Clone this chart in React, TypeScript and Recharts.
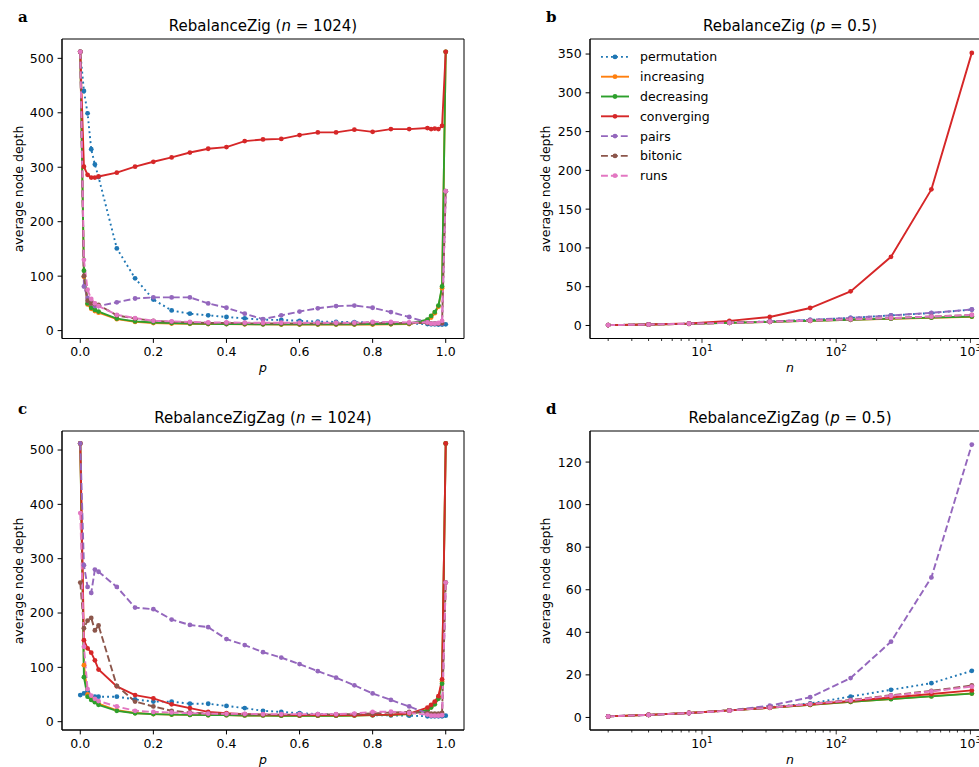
import React from 'react';
import { LineChart, Line, XAxis, YAxis, ReferenceArea, Legend } from 'recharts';

// rebalance probability p (left column) and sequence length n (right column)
const pValues = [0, 0.01, 0.02, 0.03, 0.04, 0.05, 0.1, 0.15, 0.2, 0.25, 0.3, 0.35, 0.4, 0.45, 0.5, 0.55, 0.6, 0.65, 0.7, 0.75, 0.8, 0.85, 0.9, 0.95, 0.96, 0.97, 0.98, 0.99, 1.0];
const nValues = [2, 4, 8, 16, 32, 64, 128, 256, 512, 1024];

// panel a: RebalanceZig, n = 1024
const zigPermutation = [512, 440, 399, 333, 305, 282, 151, 96, 57, 37, 31, 28, 25, 22.5, 20, 19.5, 18, 16.5, 16, 15.5, 15, 14, 13, 12, 11.5, 11.5, 11, 11, 11.5];
const zigIncreasing = [512, 99, 48, 40, 36, 33, 21, 16, 14, 13, 12.5, 12, 12, 11.5, 11.5, 11, 11, 11, 11, 11, 11, 11.5, 12, 19, 24, 32, 44, 78, 512];
const zigDecreasing = [512, 110, 50, 42, 38, 35, 22, 17, 15, 14, 13, 12.5, 12, 12, 11.5, 11.5, 11.5, 11.5, 11.5, 11.5, 12, 12, 13, 20, 27, 34, 46, 81, 512];
const zigConverging = [512, 301, 286, 281, 281, 283, 290, 301, 310, 318, 327, 334, 337, 348, 351, 352, 359, 364, 364, 369, 365, 370, 370, 372, 370, 371, 370, 376, 512];
const zigPairs = [512, 81, 60, 50, 45, 45, 52, 59, 61, 61, 61, 50, 42, 31, 21, 28, 35, 41, 45, 46, 42, 34, 25, 15, 13, 13, 13, 13, 256];
const zigBitonic = [512, 100, 55, 50, 49, 47, 28, 22, 18, 16, 15, 14, 14, 13.5, 13, 13, 13, 13, 13, 13, 13.5, 13.5, 14, 14, 13, 13, 13, 14, 256];
const zigRuns = [512, 130, 75, 58, 50, 45, 29, 23, 18, 17, 16, 15, 15, 14.5, 14.5, 14.5, 14.5, 14.5, 14.5, 14.5, 16, 16, 15, 15, 13, 13, 14, 18, 256];

// panel b: RebalanceZig, p = 0.5
const zigNPermutation = [0.5, 1.3, 2.3, 3.6, 5.2, 7.2, 9.8, 13, 16, 20.5];
const zigNIncreasing = [0.5, 1.2, 2.1, 3.3, 4.6, 5.9, 7.3, 8.7, 10, 11.3];
const zigNDecreasing = [0.5, 1.2, 2.1, 3.3, 4.6, 6, 7.4, 8.8, 10.1, 11.5];
const zigNConverging = [0.5, 1.3, 2.5, 5.9, 11, 22.5, 44, 88.5, 175.5, 351.5];
const zigNPairs = [0.5, 1.3, 2.3, 3.6, 5.2, 7.3, 9.8, 13, 16.3, 20.6];
const zigNBitonic = [0.5, 1.2, 2.2, 3.4, 4.8, 6.2, 7.8, 9.6, 11.5, 13.5];
const zigNRuns = [0.5, 1.2, 2.2, 3.4, 4.8, 6.2, 7.8, 9.5, 11.4, 13.5];

// panel c: RebalanceZigZag, n = 1024
const zzPermutation = [49, 52, 55, 46, 46, 46, 46, 41, 37, 37, 33, 33, 29, 25, 20, 18, 15.5, 14, 13, 12.5, 12, 11.5, 11, 10, 10, 10, 10, 10, 11];
const zzIncreasing = [512, 104, 50, 42, 37, 33, 21, 16, 14, 13, 12.5, 12, 12, 11.5, 11.5, 11, 11, 11, 11, 11.5, 12, 12.5, 14, 22, 27, 33, 44, 74, 512];
const zzDecreasing = [512, 82, 46, 40, 36, 31, 20, 15.5, 14, 13, 12.5, 12, 12, 11.5, 11.5, 11, 11, 11, 11, 11.5, 12, 12.5, 14, 21, 26, 32, 42, 70, 512];
const zzConverging = [512, 150, 135, 127, 113, 96, 65, 49, 43, 32, 25, 18, 15.5, 14, 13, 12.5, 12, 12, 12, 12, 12.5, 13, 15, 26, 31, 37, 47, 78, 512];
const zzPairs = [512, 288, 248, 237, 280, 276, 248, 210, 207, 188, 178, 174, 152, 141, 128, 118, 106, 93, 81, 67, 52, 40, 28, 15, 13, 12, 12, 12, 256];
const zzBitonic = [256, 172, 186, 191, 168, 177, 66, 37, 28, 20, 17, 15, 14, 13.5, 13, 13, 13, 13, 13.5, 14, 15, 17, 18, 16, 15, 15, 15, 16, 256];
const zzRuns = [384, 138, 60, 48, 42, 38, 28, 20, 18, 17, 15.5, 15, 14.5, 14.5, 14, 14, 14, 14, 14, 15, 18, 18.5, 16, 13, 11, 11, 11, 12, 256];

// panel d: RebalanceZigZag, p = 0.5
const zzNPermutation = [0.5, 1.2, 2.1, 3.3, 4.8, 6.6, 9.8, 13, 16.1, 21.9];
const zzNIncreasing = [0.5, 1.2, 2.1, 3.3, 4.5, 5.9, 7.3, 8.7, 10, 11.3];
const zzNDecreasing = [0.5, 1.2, 2.1, 3.3, 4.5, 5.9, 7.3, 8.6, 9.9, 11.2];
const zzNConverging = [0.5, 1.2, 2.1, 3.3, 4.6, 6.1, 7.7, 9.4, 11, 12.7];
const zzNPairs = [0.5, 1.2, 2, 3.3, 5.5, 9.5, 18.5, 35.6, 65.8, 128.2];
const zzNBitonic = [0.5, 1.2, 2.1, 3.3, 4.7, 6.4, 8.2, 10.4, 12.5, 15];
const zzNRuns = [0.5, 1.2, 2.1, 3.2, 4.6, 6.3, 8, 10.2, 12.2, 14.5];

const pTicks = [0, 0.2, 0.4, 0.6, 0.8, 1.0];
const nTicks = [2, 3, 4, 5, 6, 7, 8, 9, 10, 20, 30, 40, 50, 60, 70, 80, 90, 100, 200, 300, 400, 500, 600, 700, 800, 900, 1000];
const depthTicksTall = [0, 100, 200, 300, 400, 500];
const depthTicksB = [0, 50, 100, 150, 200, 250, 300, 350];
const depthTicksD = [0, 20, 40, 60, 80, 100, 120];

const FONT = 'DejaVu Sans';

const series = [
  { key: 'permutation', color: '#1f77b4', dash: '1.9 3.1' },
  { key: 'increasing', color: '#ff7f0e', dash: undefined },
  { key: 'decreasing', color: '#2ca02c', dash: undefined },
  { key: 'converging', color: '#d62728', dash: undefined },
  { key: 'pairs', color: '#9467bd', dash: '6.9 3' },
  { key: 'bitonic', color: '#8c564b', dash: '6.9 3' },
  { key: 'runs', color: '#e377c2', dash: '6.9 3' },
];

function buildRows(xs: number[], cols: number[][]) {
  return xs.map((x, i) => {
    const row: any = { x };
    series.forEach((s, j) => {
      row[s.key] = cols[j][i];
    });
    return row;
  });
}

const rowsA = buildRows(pValues, [zigPermutation, zigIncreasing, zigDecreasing, zigConverging, zigPairs, zigBitonic, zigRuns]);
const rowsB = buildRows(nValues, [zigNPermutation, zigNIncreasing, zigNDecreasing, zigNConverging, zigNPairs, zigNBitonic, zigNRuns]);
const rowsC = buildRows(pValues, [zzPermutation, zzIncreasing, zzDecreasing, zzConverging, zzPairs, zzBitonic, zzRuns]);
const rowsD = buildRows(nValues, [zzNPermutation, zzNIncreasing, zzNDecreasing, zzNConverging, zzNPairs, zzNBitonic, zzNRuns]);

const LogTick = (props: any) => {
  const { x, y, payload } = props;
  const v = payload.value;
  const exp = Math.round(Math.log10(v));
  const major = Math.abs(Math.pow(10, exp) - v) < 1e-6;
  return (
    <g>
      <line x1={x} x2={x} y1={y} y2={y + (major ? 4.4 : 2.5)} stroke="#000" strokeWidth={0.8} />
      {major && (
        <text x={x} y={y + 17.8} textAnchor="middle" fontSize={12.5} fontFamily={FONT} fill="#000">
          10<tspan dy={-5} fontSize={9}>{exp}</tspan>
        </text>
      )}
    </g>
  );
};

const LegendBox = () => (
  <svg width={150} height={140}>
    {series.map((s, i) => {
      const cy = 9.9 + i * 19.8;
      return (
        <g key={s.key}>
          <line x1={2} x2={30} y1={cy} y2={cy} stroke={s.color} strokeWidth={1.9} strokeDasharray={s.dash} />
          <circle cx={16} cy={cy} r={2.4} fill={s.color} />
          <text x={41} y={cy} dominantBaseline="central" fontSize={12.5} fontFamily={FONT} fill="#000">{s.key}</text>
        </g>
      );
    })}
  </svg>
);

interface PanelProps {
  rows: any[];
  left: number;
  top: number;
  plotHeight: number;
  xDomain: [number, number];
  yDomain: [number, number];
  yTicks: number[];
  logX?: boolean;
  legend?: boolean;
}

const Panel = ({ rows, left, top, plotHeight, xDomain, yDomain, yTicks, logX, legend }: PanelProps) => {
  const plotWidth = logX ? 400 : 402;
  return (
    <div style={{ position: 'absolute', left, top }}>
      <LineChart width={62 + plotWidth + 5} height={5 + plotHeight + 40} data={rows} margin={{ top: 5, right: 5, bottom: 0, left: 0 }}>
        {logX ? (
          <XAxis dataKey="x" type="number" scale="log" domain={xDomain} allowDataOverflow ticks={nTicks} interval={0}
            tickLine={false} tickSize={0} tickMargin={0} height={40} tick={<LogTick />} axisLine={{ stroke: '#000' }} />
        ) : (
          <XAxis dataKey="x" type="number" domain={xDomain} allowDataOverflow ticks={pTicks} interval={0}
            tickSize={4.4} tickMargin={4.4} height={40} tickFormatter={(v: number) => v.toFixed(1)}
            tick={{ fontSize: 12.5, fill: '#000', fontFamily: FONT }} tickLine={{ stroke: '#000' }} axisLine={{ stroke: '#000' }} />
        )}
        <YAxis type="number" domain={yDomain} allowDataOverflow ticks={yTicks} interval={0} width={62}
          tickSize={4.4} tickMargin={4} tick={{ fontSize: 12.5, fill: '#000', fontFamily: FONT }}
          tickLine={{ stroke: '#000' }} axisLine={{ stroke: '#000' }} />
        <ReferenceArea x1={xDomain[0]} x2={xDomain[1]} y1={yDomain[0]} y2={yDomain[1]} fill="none" stroke="#000" strokeWidth={1} />
        {series.map((s) => (
          <Line key={s.key} dataKey={s.key} stroke={s.color} strokeWidth={1.9} strokeDasharray={s.dash}
            dot={{ r: 2.4, fill: s.color, strokeWidth: 0 }} activeDot={false} isAnimationActive={false} />
        ))}
        {legend && (
          <Legend layout="vertical" align="center" verticalAlign="middle" content={<LegendBox />}
            wrapperStyle={{ left: 71, top: 12.8, width: 150, height: 140 }} />
        )}
      </LineChart>
    </div>
  );
};

const Title = ({ x, y, name, v, val }: { x: number; y: number; name: string; v: string; val: string }) => (
  <text x={x} y={y} textAnchor="middle" fontSize={15} fontFamily={FONT} fill="#000">
    {name} (<tspan fontStyle="italic">{v}</tspan> = {val})
  </text>
);

const YLabel = ({ x, y }: { x: number; y: number }) => (
  <text x={x} y={y} transform={`rotate(-90, ${x}, ${y})`} textAnchor="middle" dominantBaseline="central" fontSize={12.5} fontFamily={FONT} fill="#000">
    average node depth
  </text>
);

const Letter = ({ x, y, t }: { x: number; y: number; t: string }) => (
  <text x={x} y={y} fontSize={15} fontWeight="bold" fontFamily="DejaVu Serif" fill="#000">{t}</text>
);

const XLabel = ({ x, y, t }: { x: number; y: number; t: string }) => (
  <text x={x} y={y} textAnchor="middle" fontSize={12.5} fontStyle="italic" fontFamily={FONT} fill="#000">{t}</text>
);

export default function App() {
  const logDomain: [number, number] = [1.4643, 1399];
  return (
    <div style={{ position: 'absolute', left: 0, top: 0, width: 979, height: 767, overflow: 'hidden', background: '#fff', fontFamily: FONT }}>
      <Panel rows={rowsA} left={0} top={34} plotHeight={299.5} xDomain={[-0.05, 1.05]} yDomain={[-14.5, 535.5]} yTicks={depthTicksTall} />
      <Panel rows={rowsB} left={528} top={34} plotHeight={299.5} xDomain={logDomain} yDomain={[-16.8, 369.4]} yTicks={depthTicksB} logX legend />
      <Panel rows={rowsC} left={0} top={426} plotHeight={299} xDomain={[-0.05, 1.05]} yDomain={[-15.3, 535]} yTicks={depthTicksTall} />
      <Panel rows={rowsD} left={528} top={426} plotHeight={299} xDomain={logDomain} yDomain={[-5.9, 134.6]} yTicks={depthTicksD} logX />
      <svg width={979} height={767} style={{ position: 'absolute', left: 0, top: 0, pointerEvents: 'none' }}>
        <Letter x={18} y={22} t="a" />
        <Letter x={546} y={22} t="b" />
        <Letter x={18} y={414} t="c" />
        <Letter x={546} y={414} t="d" />
        <Title x={263} y={31} name="RebalanceZig" v="n" val="1024" />
        <Title x={790} y={31} name="RebalanceZig" v="p" val="0.5" />
        <Title x={263} y={423} name="RebalanceZigZag" v="n" val="1024" />
        <Title x={790} y={423} name="RebalanceZigZag" v="p" val="0.5" />
        <YLabel x={18} y={189} />
        <YLabel x={545} y={189} />
        <YLabel x={18} y={581} />
        <YLabel x={545} y={581} />
        <XLabel x={263} y={372} t="p" />
        <XLabel x={790} y={372} t="n" />
        <XLabel x={263} y={764} t="p" />
        <XLabel x={790} y={764} t="n" />
      </svg>
    </div>
  );
}
